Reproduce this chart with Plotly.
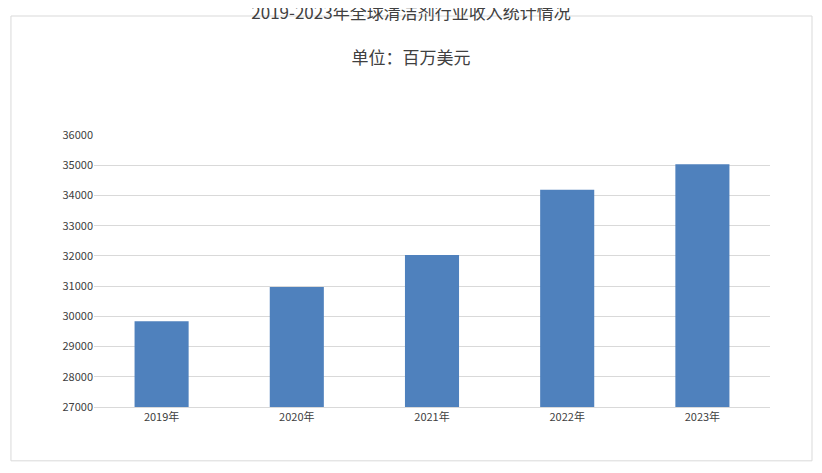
import plotly.graph_objs as go

years = ['2019年', '2020年', '2021年', '2022年', '2023年']
revenue = [29840, 30970, 32030, 34190, 35030]
tick_vals = list(range(27000, 36001, 1000))
tick_text = [str(v) for v in tick_vals]

trace = go.Bar(
    x=years,
    y=revenue,
    width=0.4,
    marker=dict(color='#4f81bd', line=dict(width=0))
)

layout = go.Layout(
    autosize=True,
    paper_bgcolor='white', plot_bgcolor='white',
    margin=dict(l=86, r=44, t=127, b=58),
    font=dict(family='Noto Sans CJK SC', size=11, color='#404040'),
    title=dict(
        text='2019-2023年全球清洁剂行业收入统计情况<br><br>单位：百万美元',
        x=0.5, xanchor='center', y=0.975, yanchor='top',
        font=dict(size=17, color='#404040')
    ),
    xaxis=dict(showgrid=False, showline=True, linecolor='#d9d9d9', ticks=''),
    yaxis=dict(
        range=[27000, 36000], tickvals=tick_vals, ticktext=tick_text,
        showgrid=True, gridcolor='#d9d9d9', zeroline=False,
        showline=False, ticks=''
    ),
    shapes=[dict(type='rect', xref='paper', yref='paper',
                 x0=-85/692, x1=(692+43)/692, y0=-57/288, y1=(288+126)/288,
                 line=dict(color='#d9d9d9', width=1))],
    showlegend=False
)

fig = go.Figure(data=[trace], layout=layout)
fig.write_html('out.html', default_width='100%', default_height='100%',
               config={'displayModeBar': False})
